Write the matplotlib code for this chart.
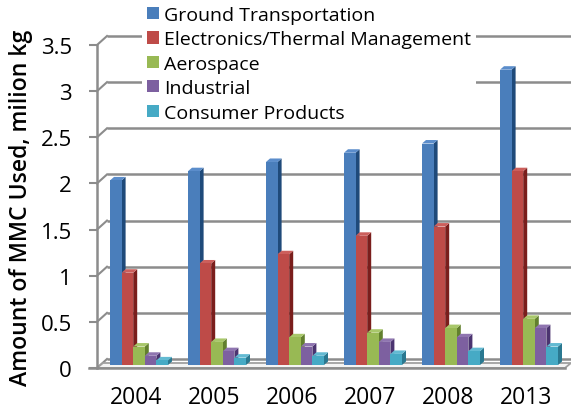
import matplotlib
matplotlib.use("Agg")
import matplotlib.pyplot as plt
from matplotlib.patches import Patch
import numpy as np

plt.rcParams['font.family'] = ['Open Sans', 'DejaVu Sans']

years = ["2004", "2005", "2006", "2007", "2008", "2013"]
series_names = ["Ground Transportation", "Electronics/Thermal Management",
                "Aerospace", "Industrial", "Consumer Products"]
ground = [2.0, 2.1, 2.2, 2.3, 2.4, 3.2]
electronics = [1.0, 1.1, 1.2, 1.4, 1.5, 2.1]
aerospace = [0.2, 0.25, 0.3, 0.35, 0.4, 0.5]
industrial = [0.1, 0.15, 0.2, 0.25, 0.3, 0.4]
consumer = [0.05, 0.08, 0.1, 0.12, 0.15, 0.2]
yticks = [0, 0.5, 1, 1.5, 2, 2.5, 3, 3.5]
ytick_labels = ["0", "0.5", "1", "1.5", "2", "2.5", "3", "3.5"]

series = [ground, electronics, aerospace, industrial, consumer]
front_cols = ["#4A7EBB", "#BE4B48", "#98B954", "#7D60A0", "#46AAC5"]
side_cols = ["#1F4A7A", "#7A1E1C", "#62802E", "#4B3470", "#2A7890"]
top_cols = ["#5B8DCB", "#CC5F5C", "#A8C76A", "#8F75B0", "#63BAD2"]

W, H = 571, 410
fig = plt.figure(figsize=(W / 100, H / 100), dpi=100)
ax_l, ax_r, ax_b, ax_t = 97, 565, 369, 46
ax = fig.add_axes([ax_l / W, (H - ax_b) / H, (ax_r - ax_l) / W, (ax_b - ax_t) / H])
n = len(years)
ax.set_xlim(-0.5, n - 0.5)
ax.set_ylim(0, 3.5)

pxx = (ax_r - ax_l) / n          # pixels per category
pxy = (ax_b - ax_t) / 3.5         # pixels per value unit
def dx(p): return p / pxx
def dy(p): return p / pxy

grid_c = "#8C8C8C"
x0 = -0.5
x_right = (W - ax_l) / pxx - 0.5
# back wall gridlines + connectors
for v in yticks:
    ax.plot([x0 + dx(10), x_right], [v + dy(9), v + dy(9)], color=grid_c, lw=1.8,
            clip_on=False, zorder=1, solid_capstyle='butt')
    ax.plot([x0, x0 + dx(10)], [v, v + dy(9)], color=grid_c, lw=1.5,
            clip_on=False, zorder=1)

# floor
fl_r = n - 0.5
ax.fill([x0, fl_r, fl_r + dx(6), x0 + dx(6)], [0, 0, dy(5), dy(5)],
        facecolor="#F4F4F4", edgecolor="#A0A0A0", lw=1.3, clip_on=False, zorder=2)

# bars (front faces via ax.bar, side/top faces as polygons)
bw = dx(11.6)
start = dx(13)
base = dy(3)
sdx, sdy = dx(4), dy(3.5)
z = 3
for i in range(n):
    for j, vals in enumerate(series):
        left = i - 0.5 + start + j * bw
        v = vals[i]
        ax.fill([left + bw, left + bw + sdx, left + bw + sdx, left + bw],
                [base, base + sdy, base + v + sdy, base + v],
                facecolor=side_cols[j], edgecolor='none', zorder=z)
        ax.fill([left, left + bw, left + bw + sdx, left + sdx],
                [base + v, base + v, base + v + sdy, base + v + sdy],
                facecolor=top_cols[j], edgecolor='none', zorder=z)
        ax.bar(left, v, width=bw, bottom=base, align='edge', color=front_cols[j],
               edgecolor='none', zorder=z + 0.5)
        z += 1

for s in ["top", "right", "bottom"]:
    ax.spines[s].set_visible(False)
ax.spines["left"].set_color(grid_c)
ax.spines["left"].set_linewidth(1.8)
ax.spines["left"].set_zorder(200)
ax.set_yticks(yticks)
ax.set_yticklabels(ytick_labels)
ax.tick_params(axis='y', length=6, width=1.5, color=grid_c, pad=12, labelsize=16)
ax.set_xticks(range(n))
ax.set_xticklabels(years)
ax.tick_params(axis='x', length=0, pad=12, labelsize=16.5)
ax.plot([x0 - dx(8), fl_r], [0, 0], color=grid_c, lw=1.8, clip_on=False, zorder=199)

fig.text(21 / W, 1 - 208 / H, "Amount of MMC Used, milion kg", rotation=90,
         ha='center', va='center', fontsize=16.6, fontweight='semibold')

handles = [Patch(facecolor=c, edgecolor='none') for c in front_cols]
leg = fig.legend(handles, series_names, loc='upper left',
                 bbox_to_anchor=(142 / W, 1 - 2 / H), fontsize=14,
                 frameon=True, fancybox=False, framealpha=1, facecolor='white',
                 edgecolor='none', handlelength=0.6, handleheight=0.6,
                 handletextpad=0.3, labelspacing=0.33, borderpad=0.25,
                 borderaxespad=0)
leg.set_zorder(300)

fig.savefig("out.png", dpi=100)
